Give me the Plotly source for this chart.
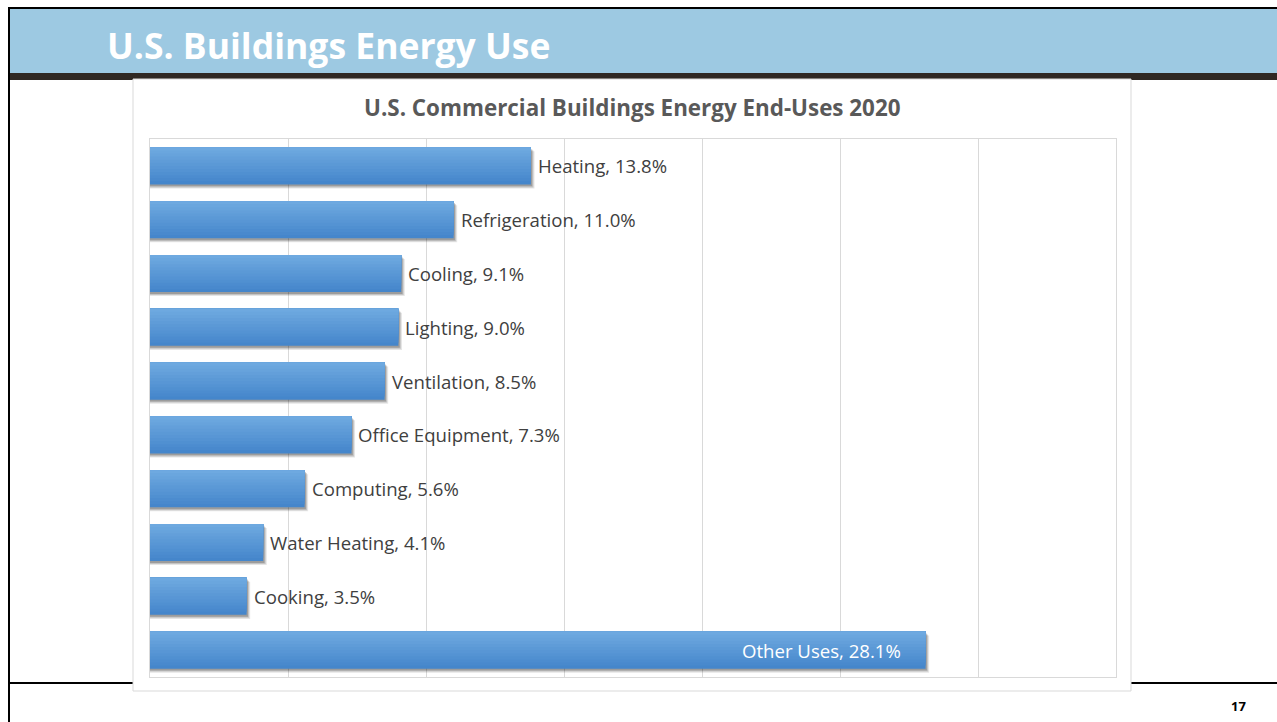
import plotly.graph_objects as go

# Commercial building end-uses, share of total energy (%)
categories = ["Heating", "Refrigeration", "Cooling", "Lighting", "Ventilation",
              "Office Equipment", "Computing", "Water Heating", "Cooking", "Other Uses"]
shares = [13.8, 11.0, 9.1, 9.0, 8.5, 7.3, 5.6, 4.1, 3.5, 28.1]

W, H = 1277, 722
L, R, T, B = 150, 1116, 139, 677   # plot area in pixels


def px(x):
    return (x - L) / (R - L)


def py(y):
    return (B - y) / (B - T)


FONT = "Open Sans"
BAR_W = 0.69
HALF = BAR_W / 2

fig = go.Figure()

# soft drop shadow beneath each bar
for k, alpha in enumerate([0.10, 0.14, 0.20]):
    fig.add_trace(go.Bar(
        x=[v + 0.13 - 0.04 * k for v in shares], y=categories, orientation="h",
        marker=dict(color=f"rgba(0,0,0,{alpha})", line=dict(width=0)),
        width=BAR_W, offset=-HALF + 0.075 - 0.02 * k, hoverinfo="skip",
    ))

# vertical gradient: darker at the bottom edge, lighter toward the top
dark = (0x45, 0x86, 0xCB)
light = (0x6E, 0xA9, 0xE0)
N = 12
for i in range(N):
    f = i / (N - 1)
    c = tuple(round(dark[j] + (light[j] - dark[j]) * f) for j in range(3))
    fig.add_trace(go.Bar(
        x=shares, y=categories, orientation="h",
        marker=dict(color="rgb(%d,%d,%d)" % c, line=dict(width=0)),
        width=BAR_W * (1 - i / N), offset=-HALF, hoverinfo="skip",
    ))

annotations = []
for cat, val in zip(categories, shares):
    label = f"{cat}, {val:.1f}%"
    if val > 20:
        annotations.append(dict(x=val, y=cat, xref="x", yref="y", text=label,
                                showarrow=False, xanchor="right", xshift=-23,
                                font=dict(family=FONT, size=18.6, color="white")))
    else:
        annotations.append(dict(x=val, y=cat, xref="x", yref="y", text=label,
                                showarrow=False, xanchor="left", xshift=5,
                                font=dict(family=FONT, size=18.6, color="#404040")))

# slide title, chart title, page number
annotations.append(dict(x=px(105), y=py(45), xref="paper", yref="paper",
                        text="<b>U.S. Buildings Energy Use</b>", showarrow=False,
                        xanchor="left", yanchor="middle",
                        font=dict(family=FONT, size=35.5, color="white")))
annotations.append(dict(x=px(632), y=py(108), xref="paper", yref="paper",
                        text="<b>U.S. Commercial Buildings Energy End-Uses 2020</b>",
                        showarrow=False, xanchor="center", yanchor="middle",
                        font=dict(family=FONT, size=22.4, color="#595959")))
annotations.append(dict(x=px(1238), y=py(706), xref="paper", yref="paper",
                        text="<b>17</b>", showarrow=False,
                        xanchor="center", yanchor="middle",
                        font=dict(family=FONT, size=13, color="black")))

shapes = [
    # header band
    dict(type="rect", xref="paper", yref="paper", x0=px(9), x1=px(W), y0=py(73), y1=py(9),
         fillcolor="#9DC9E2", line=dict(width=0), layer="below"),
    dict(type="rect", xref="paper", yref="paper", x0=px(9), x1=px(W), y0=py(80), y1=py(73),
         fillcolor="#2F2823", line=dict(width=0), layer="below"),
    dict(type="rect", xref="paper", yref="paper", x0=px(8), x1=px(W), y0=py(9), y1=py(7),
         fillcolor="black", line=dict(width=0), layer="below"),
    dict(type="rect", xref="paper", yref="paper", x0=px(8), x1=px(10), y0=py(H), y1=py(7),
         fillcolor="black", line=dict(width=0), layer="below"),
    # footer rule
    dict(type="rect", xref="paper", yref="paper", x0=px(9), x1=px(W), y0=py(684), y1=py(682),
         fillcolor="black", line=dict(width=0), layer="below"),
    # chart frame
    dict(type="rect", xref="paper", yref="paper", x0=px(133), x1=px(1131), y0=py(691), y1=py(79),
         fillcolor="white", line=dict(color="#D9D9D9", width=1), layer="below"),
]

fig.update_layout(
    width=W, height=H,
    margin=dict(l=L, r=W - R, t=T, b=H - B, pad=0),
    paper_bgcolor="white", plot_bgcolor="rgba(0,0,0,0)",
    showlegend=False, barmode="overlay",
    annotations=annotations, shapes=shapes,
    xaxis=dict(range=[0, 35], dtick=5, showgrid=True, gridcolor="#D9D9D9", gridwidth=1,
               showticklabels=False, zeroline=False, showline=True, linecolor="#D9D9D9",
               mirror=True, ticks="", fixedrange=True),
    yaxis=dict(autorange="reversed", showticklabels=False, showgrid=False, zeroline=False,
               showline=True, linecolor="#D9D9D9", mirror=True, ticks="", fixedrange=True),
)

fig.write_html("out.html", config={"displayModeBar": False})
